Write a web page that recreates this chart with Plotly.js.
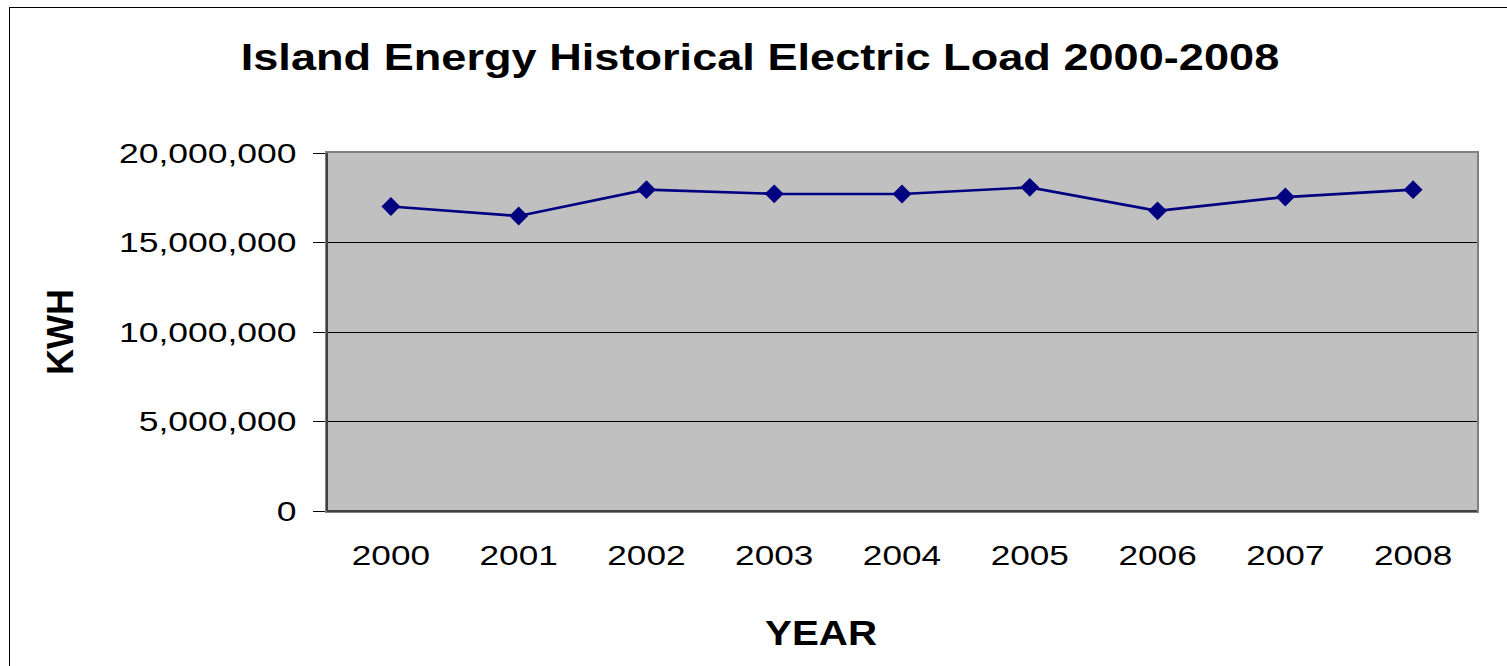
<!DOCTYPE html>
<html>
<head>
<meta charset="utf-8">
<script src="https://cdn.plot.ly/plotly-3.0.1.min.js"></script>
<style>
  html, body { margin: 0; padding: 0; background: #ffffff; }
  #wrap { position: relative; width: 1507px; height: 666px; overflow: hidden; }
  #chart { width: 1507px; height: 666px; }
  #frame { position: absolute; left: 9px; top: 7px; width: 1520px; height: 680px;
           border: 1.5px solid #000; pointer-events: none; box-sizing: border-box; }
</style>
</head>
<body>
<div id="wrap">
  <div id="chart"></div>
  <div id="frame"></div>
</div>
<script>
const years = ['2000', '2001', '2002', '2003', '2004', '2005', '2006', '2007', '2008'];
const kwh = [17010000, 16480000, 17950000, 17720000, 17710000, 18080000, 16770000, 17540000, 17950000];
const yTickVals = [0, 5000000, 10000000, 15000000, 20000000];
const yTickText = ['0', '5,000,000', '10,000,000', '15,000,000', '20,000,000'];

const FONT = 'Liberation Sans, Arial, sans-serif';

const trace = {
  type: 'scatter',
  mode: 'lines+markers',
  x: years,
  y: kwh,
  line: { color: '#000080', width: 2.7 },
  marker: { symbol: 'diamond', size: 14.5, color: '#000080' },
  hoverinfo: 'x+y'
};

const layout = {
  width: 1507,
  height: 666,
  margin: { l: 327, r: 30, t: 153, b: 155 },
  paper_bgcolor: '#ffffff',
  plot_bgcolor: '#c0c0c0',
  showlegend: false,
  font: { family: FONT, color: '#000' },
  title: {
    text: '<b>Island Energy Historical Electric Load 2000-2008</b>',
    font: { family: FONT, size: 37, color: '#000' },
    x: 760 / 1507, xref: 'container', xanchor: 'center',
    y: 1 - 57 / 666, yref: 'container', yanchor: 'middle'
  },
  xaxis: {
    type: 'category',
    range: [-0.5, 8.5],
    showgrid: false,
    zeroline: false,
    showline: true,
    linecolor: '#808080',
    linewidth: 2,
    mirror: true,
    ticks: 'outside',
    ticklen: 19,
    tickcolor: 'rgba(0,0,0,0)',
    tickfont: { family: FONT, size: 27.5, color: '#000' },
    fixedrange: true
  },
  yaxis: {
    range: [0, 20000000],
    tickvals: yTickVals,
    ticktext: yTickText,
    showgrid: true,
    gridcolor: '#000000',
    gridwidth: 1,
    zeroline: false,
    showline: true,
    linecolor: '#808080',
    linewidth: 2,
    mirror: true,
    ticks: 'outside',
    ticklen: 12,
    tickcolor: '#000',
    tickwidth: 1,
    ticklabelstandoff: 11,
    tickfont: { family: FONT, size: 27.5, color: '#000' },
    title: {
      text: '<b>KWH</b>',
      font: { family: FONT, size: 36, color: '#000' },
      standoff: 74
    },
    fixedrange: true
  },
  annotations: [{
    text: '<b>YEAR</b>',
    xref: 'paper', yref: 'paper',
    x: (821 - 327) / 1150, y: -(632 - 511) / 358,
    xanchor: 'center', yanchor: 'middle',
    showarrow: false,
    font: { family: FONT, size: 36, color: '#000' }
  }],
  shapes: [
    { type: 'line', xref: 'paper', yref: 'paper', x0: 0, x1: 0, y0: 0, y1: 1,
      line: { color: '#404040', width: 2 } },
    { type: 'line', xref: 'paper', yref: 'paper', x0: 0, x1: 1, y0: 0, y1: 0,
      line: { color: '#404040', width: 2 } }
  ]
};

// The reference text is horizontally widened; widen each label about its anchor point.
function widen(selector, s) {
  document.querySelectorAll(selector).forEach(function (t) {
    const ax = parseFloat(t.getAttribute('x')) || 0;
    const prev = t.getAttribute('transform') || '';
    t.setAttribute('transform',
      (prev + ' translate(' + ax + ',0) scale(' + s + ',1) translate(' + (-ax) + ',0)').trim());
  });
}

Plotly.newPlot('chart', [trace], layout, { displayModeBar: false, staticPlot: true })
  .then(function () {
    widen('#chart .gtitle', 1.22);
    widen('#chart .xtick text', 1.28);
    widen('#chart .ytick text', 1.29);
    widen('#chart .annotation-text', 1.12);
  });
</script>
</body>
</html>
